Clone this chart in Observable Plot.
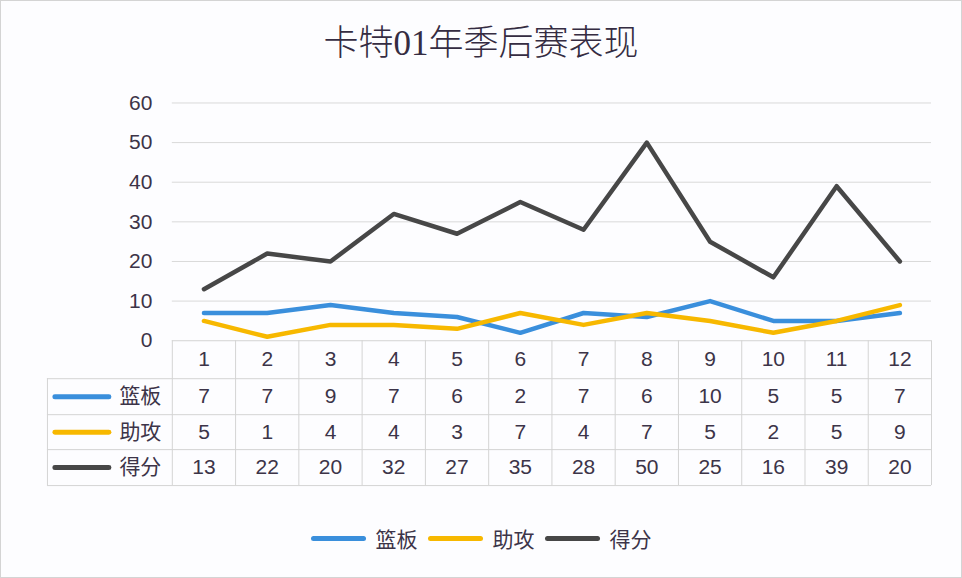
<!DOCTYPE html>
<html><head><meta charset="utf-8">
<script src="https://cdn.jsdelivr.net/npm/d3@7"></script>
<script src="https://cdn.jsdelivr.net/npm/@observablehq/plot@0.6"></script>
<style>
body{margin:0;background:#fff;}
#wrap{position:relative;width:962px;height:578px;box-sizing:border-box;border:1px solid #d4d4d4;background:#fdfdff;font-family:"Liberation Sans","Noto Sans CJK SC",sans-serif;overflow:hidden}
#title{position:absolute;left:0;top:17px;width:100%;text-align:center;font-family:"Liberation Serif","Noto Sans CJK SC",serif;font-weight:300;font-size:35px;color:#352c42;line-height:52px;}
#chart{position:absolute;left:-1px;top:84px}
#legend{position:absolute;left:0;top:522px;width:100%;display:flex;justify-content:center;align-items:center;font-family:"Noto Sans CJK SC",sans-serif;font-size:21px;color:#3c3448;line-height:30px}
.sw{display:inline-block;width:55px;height:5px;border-radius:3px;margin-right:10px}
.item{display:flex;align-items:center;margin:0 5px}
</style></head><body>
<div id="wrap"><div id="title"></div><div id="chart"></div><div id="legend"></div></div>
<script>
const title = "卡特01年季后赛表现";
const games = [1,2,3,4,5,6,7,8,9,10,11,12];
const seriesNames = ["篮板","助攻","得分"];
const rebounds = [7,7,9,7,6,2,7,6,10,5,5,7];
const assists  = [5,1,4,4,3,7,4,7,5,2,5,9];
const points   = [13,22,20,32,27,35,28,50,25,16,39,20];
const yTicks = [0,10,20,30,40,50,60];
const colors = ["#3a8fdc","#f7b800","#474747"];
const seriesValues = [rebounds, assists, points];

// layout helpers (pixels -> data units)
const W = 962, H = 420, mL = 172, mR = 30, mT = 17.5, mB = 19.5;
const pxPerX = (W - mL - mR) / 12;
const rowsPx = [0, 38, 74, 109, 145];           // table row boundaries below the 0 line
const pxPerY = (H - mT - mB - rowsPx[4]) / 60;
const xAt = px => 0.5 + (px - mL) / pxPerX;
const yAt = px => -px / pxPerY;
const rowCenter = i => yAt((rowsPx[i] + rowsPx[i+1]) / 2);

document.getElementById("title").textContent = title;

const textColor = "#3c3448";
const lineColor = "#d4d4d4";
const numFont = '"Liberation Sans", Arial, sans-serif';
const cjkFont = '"Noto Sans CJK SC", sans-serif';
const marks = [
  Plot.ruleY(yTicks.filter(d => d > 0), {stroke: "#d9d9d9", strokeWidth: 1}),
  Plot.axisY({ticks: yTicks, tickSize: 0, tickPadding: 20, tickFormat: d => d, fontSize: 21, fontFamily: numFont, fill: textColor}),
  // table: header top line
  Plot.ruleY([0], {x1: 0.5, x2: 12.5, stroke: lineColor}),
  // table: row lines
  Plot.ruleY(rowsPx.slice(1), {y: d => yAt(d), x1: xAt(47), x2: 12.5, stroke: lineColor}),
  // table: vertical lines
  Plot.ruleX(d3.range(0.5, 13, 1), {y1: 0, y2: yAt(rowsPx[4]), stroke: lineColor}),
  Plot.ruleX([xAt(47)], {y1: yAt(rowsPx[1]), y2: yAt(rowsPx[4]), stroke: lineColor}),
  // header numbers
  Plot.text(games, {x: d => d, y: rowCenter(0), text: d => String(d), fontSize: 21, fontFamily: numFont, fill: textColor})
];
seriesValues.forEach((vals, s) => {
  marks.push(
    Plot.text(vals, {x: (d, i) => games[i], y: rowCenter(s + 1), text: d => String(d), fontSize: 21, fontFamily: numFont, fill: textColor}),
    Plot.text([seriesNames[s]], {x: xAt(119), y: rowCenter(s + 1), text: d => d, textAnchor: "start", fontSize: 21, fontFamily: cjkFont, fill: textColor}),
    Plot.ruleY([rowCenter(s + 1)], {x1: xAt(55), x2: xAt(109), stroke: colors[s], strokeWidth: 5, strokeLinecap: "round"})
  );
});
seriesValues.forEach((vals, s) => {
  marks.push(Plot.line(vals, {x: (d, i) => games[i], y: d => d, stroke: colors[s], strokeWidth: 4.5, strokeLinejoin: "round", strokeLinecap: "round"}));
});

const chart = Plot.plot({
  width: W, height: H,
  marginLeft: mL, marginRight: mR, marginTop: mT, marginBottom: mB,
  x: {type: "linear", domain: [0.5, 12.5], axis: null},
  y: {type: "linear", domain: [yAt(rowsPx[4]), 60], axis: null},
  style: {fontFamily: numFont, fontSize: "21px", color: textColor, background: "transparent", overflow: "visible"},
  marks
});
document.getElementById("chart").appendChild(chart);

const legend = document.getElementById("legend");
seriesNames.forEach((n, i) => {
  const it = document.createElement("div"); it.className = "item";
  const sw = document.createElement("span"); sw.className = "sw"; sw.style.background = colors[i];
  const tx = document.createElement("span"); tx.textContent = n;
  it.appendChild(sw); it.appendChild(tx); legend.appendChild(it);
});
</script>
</body></html>
